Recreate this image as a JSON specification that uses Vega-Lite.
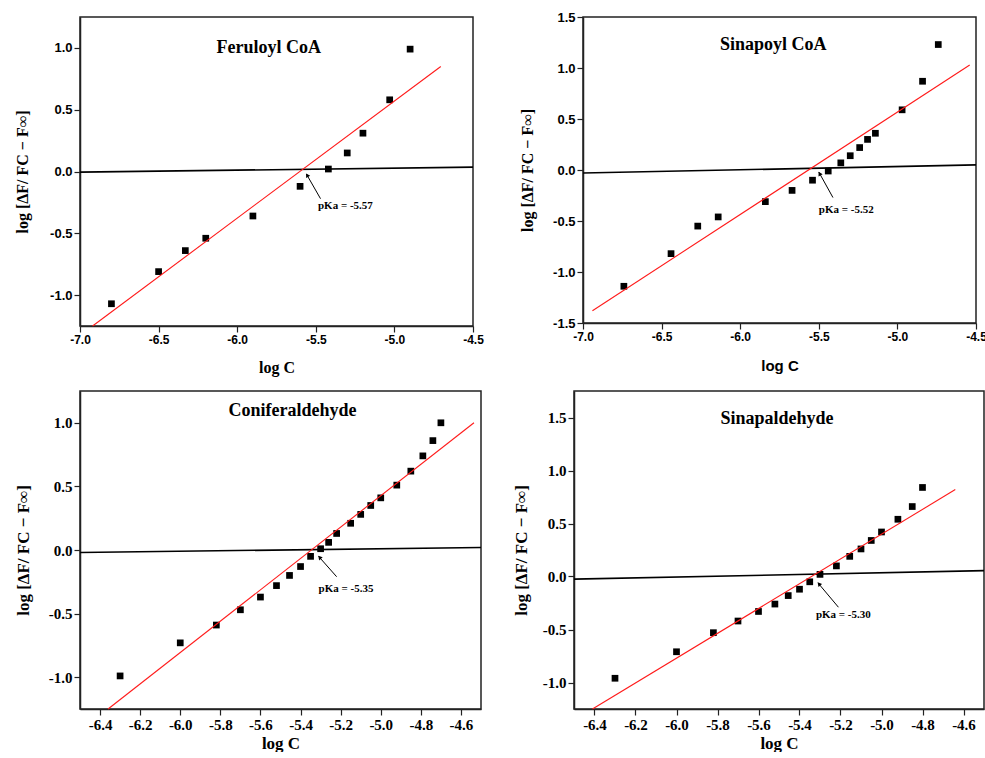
{
  "$schema": "https://vega.github.io/schema/vega-lite/v6.json",
  "padding": {"left": 13, "top": 10, "right": 0, "bottom": 0},
  "background": "white",
  "spacing": 14,
  "config": {
    "view": {"stroke": "#222222", "strokeWidth": 1.5},
    "axis": {"grid": false, "domainColor": "#222222", "domainWidth": 1.5, "tickColor": "#222222", "tickWidth": 1.2, "labelColor": "black", "titleColor": "black", "labelFontWeight": "bold", "titleFontWeight": "bold", "labelPadding": 2, "labelOverlap": false, "labelFlush": false},
    "text": {"font": "Liberation Serif", "fontWeight": "bold", "color": "black"}
  },
  "vconcat": [
    {
      "spacing": 33,
      "hconcat": [
        {
          "width": 393, "height": 309,
          "layer": [
            {
              "data": {"values": [
                {"x": -6.80, "y": -1.07}, {"x": -6.50, "y": -0.81}, {"x": -6.33, "y": -0.64}, {"x": -6.20, "y": -0.54},
                {"x": -5.90, "y": -0.36}, {"x": -5.60, "y": -0.12}, {"x": -5.42, "y": 0.02}, {"x": -5.30, "y": 0.15},
                {"x": -5.20, "y": 0.31}, {"x": -5.03, "y": 0.58}, {"x": -4.90, "y": 0.99}
              ]},
              "mark": {"type": "square", "size": 45, "color": "black", "opacity": 1},
              "encoding": {
                "x": {"field": "x", "type": "quantitative", "scale": {"domain": [-7, -4.5], "nice": false, "zero": false},
                  "axis": {"title": "log C", "titleFont": "Liberation Serif", "titleFontSize": 16, "labelFont": "Liberation Sans", "labelFontSize": 12,
                    "values": [-7, -6.75, -6.5, -6.25, -6, -5.75, -5.5, -5.25, -5, -4.75, -4.5],
                    "labelExpr": "abs(datum.value*2-round(datum.value*2))<0.01 ? replace(format(datum.value,'.1f'),'\u2212','-') : ''",
                    "tickSize": {"condition": {"test": "abs(datum.value*2-round(datum.value*2))<0.01", "value": 6}, "value": 3},
                    "minExtent": 21, "maxExtent": 21, "titlePadding": 12}},
                "y": {"field": "y", "type": "quantitative", "scale": {"domain": [-1.25, 1.25], "nice": false, "zero": false},
                  "axis": {"title": "log [ΔF/ FC − F∞]", "titleFont": "Liberation Serif", "titleFontSize": 16, "labelFont": "Liberation Sans", "labelFontSize": 13,
                    "values": [-1, -0.75, -0.5, -0.25, 0, 0.25, 0.5, 0.75, 1],
                    "labelExpr": "abs(datum.value*2-round(datum.value*2))<0.01 ? replace(format(datum.value,'.1f'),'\u2212','-') : ''",
                    "tickSize": {"condition": {"test": "abs(datum.value*2-round(datum.value*2))<0.01", "value": 6}, "value": 3},
                    "minExtent": 30, "maxExtent": 30, "titlePadding": 20}}
              }
            },
            {
              "data": {"values": [{"x": -7, "y": -0.005}, {"x": -4.5, "y": 0.035}]},
              "mark": {"type": "line", "color": "black", "strokeWidth": 1.6},
              "encoding": {"x": {"field": "x", "type": "quantitative"}, "y": {"field": "y", "type": "quantitative"}}
            },
            {
              "data": {"values": [{"x": -6.92, "y": -1.25}, {"x": -4.705, "y": 0.85}]},
              "mark": {"type": "line", "color": "#ff1a1a", "strokeWidth": 1.1},
              "encoding": {"x": {"field": "x", "type": "quantitative"}, "y": {"field": "y", "type": "quantitative"}}
            },
            {
              "data": {"values": [{"x": -5.47, "y": -0.22, "x2": -5.56, "y2": -0.02}]},
              "mark": {"type": "rule", "color": "black", "strokeWidth": 1},
              "encoding": {"x": {"field": "x", "type": "quantitative"}, "y": {"field": "y", "type": "quantitative"}, "x2": {"field": "x2"}, "y2": {"field": "y2"}}
            },
            {
              "data": {"values": [{"x": -5.555, "y": -0.03}]},
              "mark": {"type": "point", "shape": "triangle-up", "size": 22, "filled": true, "color": "black", "opacity": 1, "angle": 331},
              "encoding": {"x": {"field": "x", "type": "quantitative"}, "y": {"field": "y", "type": "quantitative"}}
            },
            {
              "data": {"values": [{"x": -5.486, "y": -0.283, "label": "pKa = -5.57"}]},
              "mark": {"type": "text", "align": "left", "baseline": "middle", "fontSize": 11},
              "encoding": {"x": {"field": "x", "type": "quantitative"}, "y": {"field": "y", "type": "quantitative"}, "text": {"field": "label"}}
            },
            {
              "data": {"values": [{"x": -5.80, "y": 1.0, "label": "Feruloyl CoA"}]},
              "mark": {"type": "text", "align": "center", "baseline": "middle", "fontSize": 18},
              "encoding": {"x": {"field": "x", "type": "quantitative"}, "y": {"field": "y", "type": "quantitative"}, "text": {"field": "label"}}
            }
          ]
        },
        {
          "width": 393, "height": 306,
          "layer": [
            {
              "data": {"values": [
                {"x": -6.74, "y": -1.14}, {"x": -6.44, "y": -0.82}, {"x": -6.27, "y": -0.55}, {"x": -6.14, "y": -0.46},
                {"x": -5.84, "y": -0.31}, {"x": -5.67, "y": -0.20}, {"x": -5.54, "y": -0.10}, {"x": -5.44, "y": -0.01},
                {"x": -5.36, "y": 0.07}, {"x": -5.30, "y": 0.14}, {"x": -5.24, "y": 0.22}, {"x": -5.19, "y": 0.30},
                {"x": -5.14, "y": 0.36}, {"x": -4.97, "y": 0.59}, {"x": -4.84, "y": 0.87}, {"x": -4.74, "y": 1.23}
              ]},
              "mark": {"type": "square", "size": 45, "color": "black", "opacity": 1},
              "encoding": {
                "x": {"field": "x", "type": "quantitative", "scale": {"domain": [-7, -4.5], "nice": false, "zero": false},
                  "axis": {"title": "log C", "titleFont": "Liberation Sans", "titleFontSize": 15, "labelFont": "Liberation Sans", "labelFontSize": 12,
                    "values": [-7, -6.75, -6.5, -6.25, -6, -5.75, -5.5, -5.25, -5, -4.75, -4.5],
                    "labelExpr": "abs(datum.value*2-round(datum.value*2))<0.01 ? replace(format(datum.value,'.1f'),'\u2212','-') : ''",
                    "tickSize": {"condition": {"test": "abs(datum.value*2-round(datum.value*2))<0.01", "value": 6}, "value": 3},
                    "minExtent": 21, "maxExtent": 21, "titlePadding": 14}},
                "y": {"field": "y", "type": "quantitative", "scale": {"domain": [-1.5, 1.5], "nice": false, "zero": false},
                  "axis": {"title": "log [ΔF/ FC − F∞]", "titleFont": "Liberation Serif", "titleFontSize": 16, "labelFont": "Liberation Sans", "labelFontSize": 13,
                    "values": [-1.5, -1.25, -1, -0.75, -0.5, -0.25, 0, 0.25, 0.5, 0.75, 1, 1.25, 1.5],
                    "labelExpr": "abs(datum.value*2-round(datum.value*2))<0.01 ? replace(format(datum.value,'.1f'),'\u2212','-') : ''",
                    "tickSize": {"condition": {"test": "abs(datum.value*2-round(datum.value*2))<0.01", "value": 6}, "value": 3},
                    "minExtent": 30, "maxExtent": 30, "titlePadding": 18}}
              }
            },
            {
              "data": {"values": [{"x": -7, "y": -0.03}, {"x": -4.5, "y": 0.05}]},
              "mark": {"type": "line", "color": "black", "strokeWidth": 1.6},
              "encoding": {"x": {"field": "x", "type": "quantitative"}, "y": {"field": "y", "type": "quantitative"}}
            },
            {
              "data": {"values": [{"x": -6.94, "y": -1.38}, {"x": -4.54, "y": 1.03}]},
              "mark": {"type": "line", "color": "#ff1a1a", "strokeWidth": 1.1},
              "encoding": {"x": {"field": "x", "type": "quantitative"}, "y": {"field": "y", "type": "quantitative"}}
            },
            {
              "data": {"values": [{"x": -5.41, "y": -0.27, "x2": -5.50, "y2": -0.02}]},
              "mark": {"type": "rule", "color": "black", "strokeWidth": 1},
              "encoding": {"x": {"field": "x", "type": "quantitative"}, "y": {"field": "y", "type": "quantitative"}, "x2": {"field": "x2"}, "y2": {"field": "y2"}}
            },
            {
              "data": {"values": [{"x": -5.495, "y": -0.035}]},
              "mark": {"type": "point", "shape": "triangle-up", "size": 22, "filled": true, "color": "black", "opacity": 1, "angle": 331},
              "encoding": {"x": {"field": "x", "type": "quantitative"}, "y": {"field": "y", "type": "quantitative"}}
            },
            {
              "data": {"values": [{"x": -5.50, "y": -0.39, "label": "pKa = -5.52"}]},
              "mark": {"type": "text", "align": "left", "baseline": "middle", "fontSize": 11},
              "encoding": {"x": {"field": "x", "type": "quantitative"}, "y": {"field": "y", "type": "quantitative"}, "text": {"field": "label"}}
            },
            {
              "data": {"values": [{"x": -5.79, "y": 1.23, "label": "Sinapoyl CoA"}]},
              "mark": {"type": "text", "align": "center", "baseline": "middle", "fontSize": 18},
              "encoding": {"x": {"field": "x", "type": "quantitative"}, "y": {"field": "y", "type": "quantitative"}, "text": {"field": "label"}}
            }
          ]
        }
      ]
    },
    {
      "spacing": 26,
      "hconcat": [
        {
          "width": 401, "height": 318,
          "layer": [
            {
              "data": {"values": [
                {"x": -6.30, "y": -0.99}, {"x": -6.00, "y": -0.73}, {"x": -5.82, "y": -0.59}, {"x": -5.70, "y": -0.47},
                {"x": -5.60, "y": -0.37}, {"x": -5.52, "y": -0.28}, {"x": -5.455, "y": -0.20}, {"x": -5.40, "y": -0.13},
                {"x": -5.35, "y": -0.05}, {"x": -5.30, "y": 0.01}, {"x": -5.26, "y": 0.06}, {"x": -5.22, "y": 0.13},
                {"x": -5.15, "y": 0.21}, {"x": -5.10, "y": 0.28}, {"x": -5.05, "y": 0.35}, {"x": -5.00, "y": 0.41},
                {"x": -4.92, "y": 0.51}, {"x": -4.85, "y": 0.62}, {"x": -4.79, "y": 0.74}, {"x": -4.74, "y": 0.86},
                {"x": -4.70, "y": 1.00}
              ]},
              "mark": {"type": "square", "size": 45, "color": "black", "opacity": 1},
              "encoding": {
                "x": {"field": "x", "type": "quantitative", "scale": {"domain": [-6.5, -4.5], "nice": false, "zero": false},
                  "axis": {"title": "log C", "titleFont": "Liberation Serif", "titleFontSize": 17, "labelFont": "Liberation Serif", "labelFontSize": 15,
                    "values": [-6.4, -6.3, -6.2, -6.1, -6.0, -5.9, -5.8, -5.7, -5.6, -5.5, -5.4, -5.3, -5.2, -5.1, -5.0, -4.9, -4.8, -4.7, -4.6],
                    "labelExpr": "abs(datum.value*5-round(datum.value*5))<0.01 ? replace(format(datum.value,'.1f'),'\u2212','-') : ''",
                    "tickSize": {"condition": {"test": "abs(datum.value*5-round(datum.value*5))<0.01", "value": 6}, "value": 3},
                    "minExtent": 23, "maxExtent": 23, "titlePadding": 3}},
                "y": {"field": "y", "type": "quantitative", "scale": {"domain": [-1.25, 1.25], "nice": false, "zero": false},
                  "axis": {"title": "log [ΔF/ FC − F∞]", "titleFont": "Liberation Serif", "titleFontSize": 17, "labelFont": "Liberation Serif", "labelFontSize": 15,
                    "values": [-1, -0.75, -0.5, -0.25, 0, 0.25, 0.5, 0.75, 1],
                    "labelExpr": "abs(datum.value*2-round(datum.value*2))<0.01 ? replace(format(datum.value,'.1f'),'\u2212','-') : ''",
                    "tickSize": {"condition": {"test": "abs(datum.value*2-round(datum.value*2))<0.01", "value": 6}, "value": 3},
                    "minExtent": 30, "maxExtent": 30, "titlePadding": 18}}
              }
            },
            {
              "data": {"values": [{"x": -6.5, "y": -0.02}, {"x": -4.5, "y": 0.02}]},
              "mark": {"type": "line", "color": "black", "strokeWidth": 1.6},
              "encoding": {"x": {"field": "x", "type": "quantitative"}, "y": {"field": "y", "type": "quantitative"}}
            },
            {
              "data": {"values": [{"x": -6.36, "y": -1.25}, {"x": -4.535, "y": 1.00}]},
              "mark": {"type": "line", "color": "#ff1a1a", "strokeWidth": 1.1},
              "encoding": {"x": {"field": "x", "type": "quantitative"}, "y": {"field": "y", "type": "quantitative"}}
            },
            {
              "data": {"values": [{"x": -5.22, "y": -0.21, "x2": -5.31, "y2": -0.05}]},
              "mark": {"type": "rule", "color": "black", "strokeWidth": 1},
              "encoding": {"x": {"field": "x", "type": "quantitative"}, "y": {"field": "y", "type": "quantitative"}, "x2": {"field": "x2"}, "y2": {"field": "y2"}}
            },
            {
              "data": {"values": [{"x": -5.305, "y": -0.058}]},
              "mark": {"type": "point", "shape": "triangle-up", "size": 22, "filled": true, "color": "black", "opacity": 1, "angle": 318},
              "encoding": {"x": {"field": "x", "type": "quantitative"}, "y": {"field": "y", "type": "quantitative"}}
            },
            {
              "data": {"values": [{"x": -5.31, "y": -0.31, "label": "pKa = -5.35"}]},
              "mark": {"type": "text", "align": "left", "baseline": "middle", "fontSize": 11},
              "encoding": {"x": {"field": "x", "type": "quantitative"}, "y": {"field": "y", "type": "quantitative"}, "text": {"field": "label"}}
            },
            {
              "data": {"values": [{"x": -5.44, "y": 1.09, "label": "Coniferaldehyde"}]},
              "mark": {"type": "text", "align": "center", "baseline": "middle", "fontSize": 18},
              "encoding": {"x": {"field": "x", "type": "quantitative"}, "y": {"field": "y", "type": "quantitative"}, "text": {"field": "label"}}
            }
          ]
        },
        {
          "width": 410, "height": 318,
          "layer": [
            {
              "data": {"values": [
                {"x": -6.30, "y": -0.96}, {"x": -6.00, "y": -0.71}, {"x": -5.82, "y": -0.53}, {"x": -5.70, "y": -0.42},
                {"x": -5.60, "y": -0.33}, {"x": -5.52, "y": -0.26}, {"x": -5.455, "y": -0.18}, {"x": -5.40, "y": -0.12},
                {"x": -5.35, "y": -0.05}, {"x": -5.30, "y": 0.02}, {"x": -5.22, "y": 0.10}, {"x": -5.155, "y": 0.19},
                {"x": -5.10, "y": 0.26}, {"x": -5.05, "y": 0.34}, {"x": -5.00, "y": 0.42}, {"x": -4.92, "y": 0.54},
                {"x": -4.85, "y": 0.66}, {"x": -4.80, "y": 0.84}
              ]},
              "mark": {"type": "square", "size": 45, "color": "black", "opacity": 1},
              "encoding": {
                "x": {"field": "x", "type": "quantitative", "scale": {"domain": [-6.5, -4.5], "nice": false, "zero": false},
                  "axis": {"title": "log C", "titleFont": "Liberation Serif", "titleFontSize": 17, "labelFont": "Liberation Serif", "labelFontSize": 15,
                    "values": [-6.4, -6.3, -6.2, -6.1, -6.0, -5.9, -5.8, -5.7, -5.6, -5.5, -5.4, -5.3, -5.2, -5.1, -5.0, -4.9, -4.8, -4.7, -4.6],
                    "labelExpr": "abs(datum.value*5-round(datum.value*5))<0.01 ? replace(format(datum.value,'.1f'),'\u2212','-') : ''",
                    "tickSize": {"condition": {"test": "abs(datum.value*5-round(datum.value*5))<0.01", "value": 6}, "value": 3},
                    "minExtent": 23, "maxExtent": 23, "titlePadding": 3}},
                "y": {"field": "y", "type": "quantitative", "scale": {"domain": [-1.25, 1.75], "nice": false, "zero": false},
                  "axis": {"title": "log [ΔF/ FC − F∞]", "titleFont": "Liberation Serif", "titleFontSize": 17, "labelFont": "Liberation Serif", "labelFontSize": 15,
                    "values": [-1, -0.75, -0.5, -0.25, 0, 0.25, 0.5, 0.75, 1, 1.25, 1.5],
                    "labelExpr": "abs(datum.value*2-round(datum.value*2))<0.01 ? replace(format(datum.value,'.1f'),'\u2212','-') : ''",
                    "tickSize": {"condition": {"test": "abs(datum.value*2-round(datum.value*2))<0.01", "value": 6}, "value": 3},
                    "minExtent": 30, "maxExtent": 30, "titlePadding": 14}}
              }
            },
            {
              "data": {"values": [{"x": -6.5, "y": -0.025}, {"x": -4.5, "y": 0.055}]},
              "mark": {"type": "line", "color": "black", "strokeWidth": 1.6},
              "encoding": {"x": {"field": "x", "type": "quantitative"}, "y": {"field": "y", "type": "quantitative"}}
            },
            {
              "data": {"values": [{"x": -6.41, "y": -1.25}, {"x": -4.64, "y": 0.82}]},
              "mark": {"type": "line", "color": "#ff1a1a", "strokeWidth": 1.1},
              "encoding": {"x": {"field": "x", "type": "quantitative"}, "y": {"field": "y", "type": "quantitative"}}
            },
            {
              "data": {"values": [{"x": -5.21, "y": -0.29, "x2": -5.31, "y2": -0.06}]},
              "mark": {"type": "rule", "color": "black", "strokeWidth": 1},
              "encoding": {"x": {"field": "x", "type": "quantitative"}, "y": {"field": "y", "type": "quantitative"}, "x2": {"field": "x2"}, "y2": {"field": "y2"}}
            },
            {
              "data": {"values": [{"x": -5.305, "y": -0.07}]},
              "mark": {"type": "point", "shape": "triangle-up", "size": 22, "filled": true, "color": "black", "opacity": 1, "angle": 320},
              "encoding": {"x": {"field": "x", "type": "quantitative"}, "y": {"field": "y", "type": "quantitative"}}
            },
            {
              "data": {"values": [{"x": -5.32, "y": -0.36, "label": "pKa = -5.30"}]},
              "mark": {"type": "text", "align": "left", "baseline": "middle", "fontSize": 11},
              "encoding": {"x": {"field": "x", "type": "quantitative"}, "y": {"field": "y", "type": "quantitative"}, "text": {"field": "label"}}
            },
            {
              "data": {"values": [{"x": -5.51, "y": 1.49, "label": "Sinapaldehyde"}]},
              "mark": {"type": "text", "align": "center", "baseline": "middle", "fontSize": 18},
              "encoding": {"x": {"field": "x", "type": "quantitative"}, "y": {"field": "y", "type": "quantitative"}, "text": {"field": "label"}}
            }
          ]
        }
      ]
    }
  ]
}
